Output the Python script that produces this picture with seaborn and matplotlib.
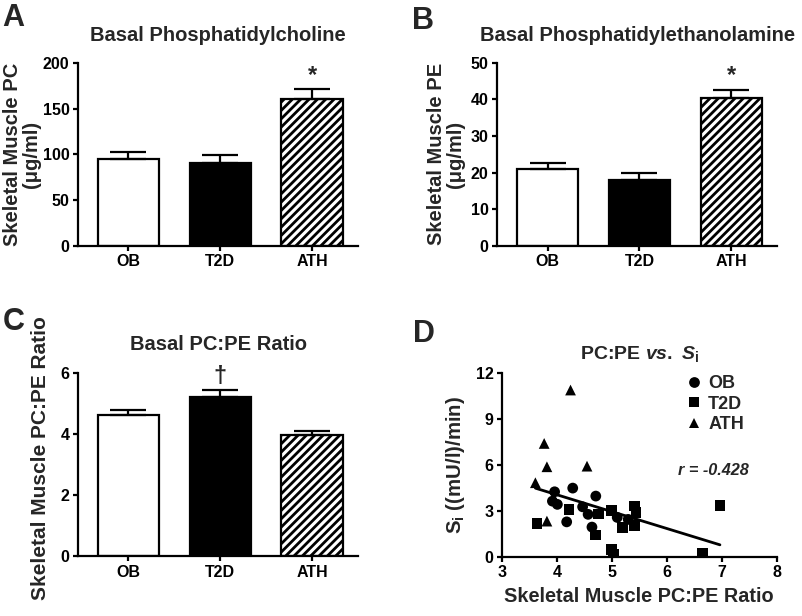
import matplotlib
matplotlib.use('Agg')
import matplotlib.pyplot as plt
import numpy as np
import pandas as pd
import seaborn as sns

# bar panels
groups = ['OB', 'T2D', 'ATH']
pc_mean = [94.5, 91, 161]
pc_sem = [7.5, 8.5, 10]
pe_mean = [20.9, 18.1, 40.5]
pe_sem = [1.8, 1.7, 2.0]
ratio_mean = [4.61, 5.19, 3.97]
ratio_sem = [0.16, 0.23, 0.14]

# scatter panel (PC:PE ratio vs Si)
ob_ratio = [3.96, 4.29, 4.71, 3.92, 4.01, 4.47, 4.57, 4.18, 4.64, 5.10, 5.30]
ob_si = [4.24, 4.48, 3.96, 3.63, 3.42, 3.26, 2.77, 2.28, 1.94, 2.57, 2.44]
t2d_ratio = [3.64, 4.22, 4.76, 4.70, 5.00, 5.19, 5.41, 5.44, 5.42, 5.00, 5.03, 6.65, 6.97]
t2d_si = [2.18, 3.09, 2.79, 1.42, 3.00, 1.89, 3.31, 2.90, 2.02, 0.48, 0.18, 0.22, 3.37]
ath_ratio = [4.25, 3.77, 3.82, 4.55, 3.61, 3.82]
ath_si = [10.87, 7.39, 5.87, 5.91, 4.83, 2.33]

sns.set_style('ticks')
plt.rcParams['font.family'] = ['Liberation Sans', 'DejaVu Sans']
plt.rcParams['font.weight'] = 'bold'
plt.rcParams['axes.labelweight'] = 'bold'
plt.rcParams['axes.titleweight'] = 'bold'
plt.rcParams['mathtext.fontset'] = 'custom'
plt.rcParams['mathtext.rm'] = 'Liberation Sans:bold'
plt.rcParams['mathtext.bf'] = 'Liberation Sans:bold'
plt.rcParams['mathtext.it'] = 'Liberation Sans:bold:italic'
plt.rcParams['hatch.linewidth'] = 2.0

fig = plt.figure(figsize=(8.03, 6.16), dpi=100)

bar_colors = ['white', 'black', 'white']
hatches = ['', '', '////']


def style_axes(ax):
    sns.despine(ax=ax)
    for s in ['left', 'bottom']:
        ax.spines[s].set_linewidth(1.6)
        ax.spines[s].set_color('black')
    ax.tick_params(direction='out', length=3.5, width=1.6, pad=2.5,
                   labelsize=11.5, colors='black')
    for lab in ax.get_xticklabels() + ax.get_yticklabels():
        lab.set_fontweight('bold')


def bar_panel(ax, means, sems, top, yticks, ylabel, title, mark, mark_idx, lsize, lpad):
    df = pd.DataFrame({'group': groups, 'value': means})
    sns.barplot(data=df, x='group', y='value', hue='group', palette=bar_colors,
                edgecolor='black', linewidth=1.6, width=0.67, errorbar=None,
                legend=False, ax=ax)
    for patch, h in zip(ax.patches, hatches):
        patch.set_hatch(h)
    ax.errorbar(range(3), means, yerr=[np.zeros(3), sems], fmt='none',
                ecolor='black', elinewidth=1.6, capsize=13, capthick=1.6)
    ax.set_xlim(-0.55, 2.5)
    ax.set_ylim(0, top)
    ax.set_yticks(yticks)
    ax.set_xlabel('')
    ax.set_ylabel(ylabel, fontsize=lsize, labelpad=lpad, linespacing=1.0)
    ax.set_title(title, fontsize=14.5, pad=16)
    ax.annotate(mark, (mark_idx, means[mark_idx] + sems[mark_idx]),
                xytext=(0, 2), textcoords='offset points', ha='center',
                va='bottom', fontsize=17, fontweight='bold')
    style_axes(ax)


axA = fig.add_axes([0.097, 0.601, 0.349, 0.297])
bar_panel(axA, pc_mean, pc_sem, 200, [0, 50, 100, 150, 200],
          'Skeletal Muscle PC\n(μg/ml)', 'Basal Phosphatidylcholine', '*', 2, 14.5, 1)

axB = fig.add_axes([0.619, 0.601, 0.349, 0.297])
bar_panel(axB, pe_mean, pe_sem, 50, [0, 10, 20, 30, 40, 50],
          'Skeletal Muscle PE\n(μg/ml)', 'Basal Phosphatidylethanolamine', '*', 2, 14.5, 4)

axC = fig.add_axes([0.097, 0.097, 0.349, 0.298])
bar_panel(axC, ratio_mean, ratio_sem, 6, [0, 2, 4, 6],
          'Skeletal Muscle PC:PE Ratio', 'Basal PC:PE Ratio', '†', 1, 15, 4)
axC.yaxis.set_label_coords(-0.10, 0.535)

# scatter panel
axD = fig.add_axes([0.625, 0.096, 0.342, 0.299])
sc = pd.DataFrame({
    'ratio': ob_ratio + t2d_ratio + ath_ratio,
    'si': ob_si + t2d_si + ath_si,
    'group': ['OB'] * len(ob_ratio) + ['T2D'] * len(t2d_ratio) + ['ATH'] * len(ath_ratio),
})
sns.regplot(data=sc, x='ratio', y='si', scatter=False, ci=None, truncate=True,
            color='black', line_kws={'linewidth': 2}, ax=axD)
sns.scatterplot(data=sc, x='ratio', y='si', style='group', style_order=groups,
                markers={'OB': 'o', 'T2D': 's', 'ATH': '^'}, color='black',
                s=60, edgecolor='black', linewidth=0, ax=axD, zorder=3)
axD.set_xlim(3, 8)
axD.set_ylim(0, 12)
axD.set_xticks([3, 4, 5, 6, 7, 8])
axD.set_yticks([0, 3, 6, 9, 12])
axD.set_xlabel('Skeletal Muscle PC:PE Ratio', fontsize=14.3, labelpad=5)
axD.set_ylabel(r'S$_\mathrm{i}$ ((mU/l)/min)', fontsize=14.7, labelpad=6)
axD.set_title(r'PC:PE $\mathit{vs.}$ $\mathit{S}_\mathrm{i}$', fontsize=14, pad=10)
axD.text(6.85, 5.6, 'r = -0.428', style='italic', fontweight='bold',
         fontsize=11.7, ha='center', va='center')
leg = axD.legend(loc='upper left', bbox_to_anchor=(0.6, 1.075), frameon=False,
                 handletextpad=0.2, labelspacing=0.2, fontsize=13,
                 handlelength=1.2)
for t in leg.get_texts():
    t.set_fontweight('bold')
style_axes(axD)

for letter, x, y in [('A', 0.003, 0.995), ('B', 0.513, 0.99),
                     ('C', 0.003, 0.502), ('D', 0.514, 0.482)]:
    fig.text(x, y, letter, fontsize=22, fontweight='bold', va='top', ha='left')

fig.savefig('out.png', dpi=100)
